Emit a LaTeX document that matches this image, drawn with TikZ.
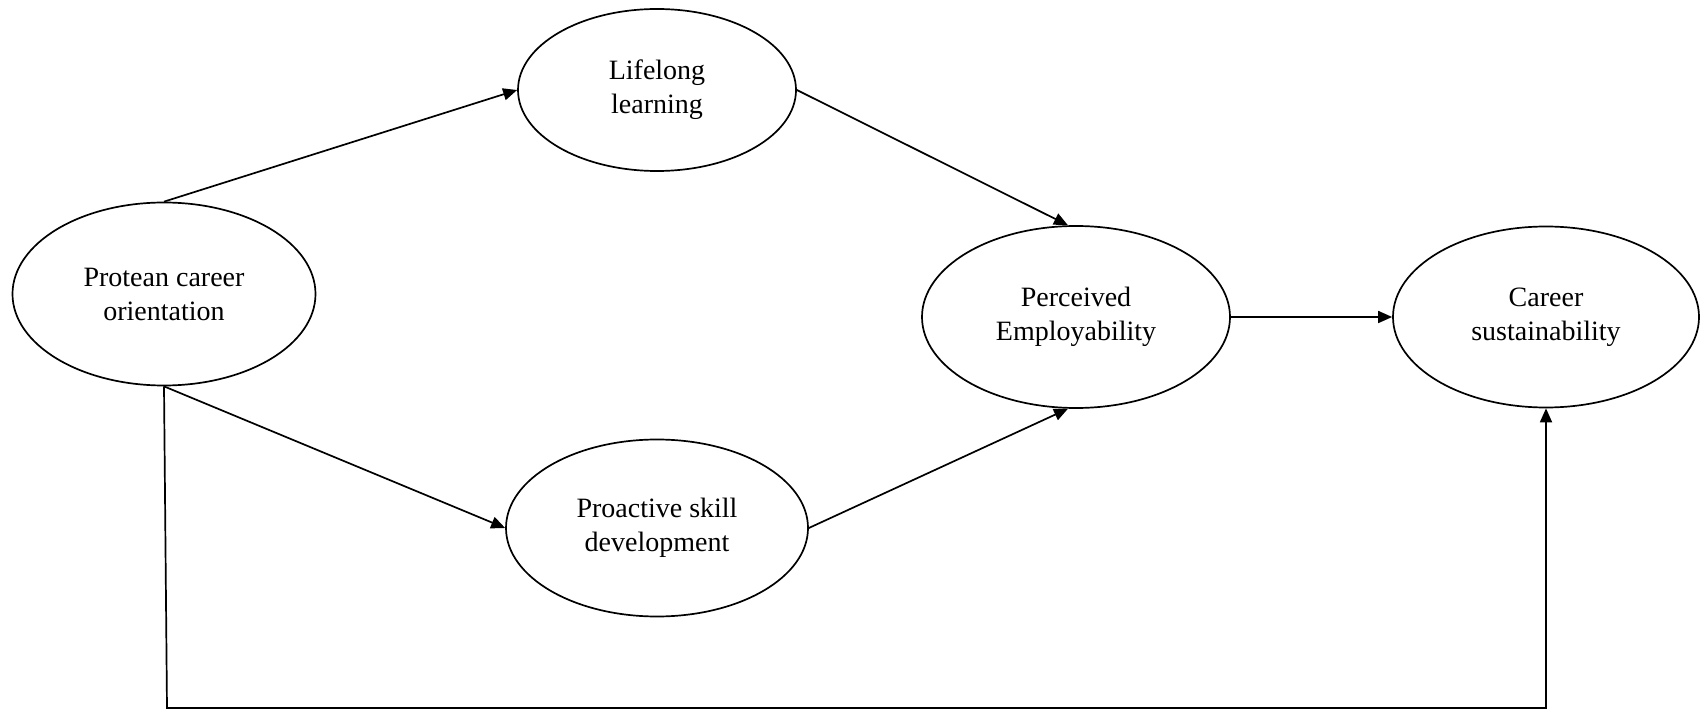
\documentclass[tikz,border=0pt]{standalone}
\usepackage{fontspec}
\setmainfont{Liberation Serif}
\usetikzlibrary{arrows.meta,shapes.geometric}
\begin{document}
\begin{tikzpicture}[x=1pt,y=-1pt,
  var/.style={draw, line width=1.7pt, ellipse, inner sep=0pt, align=center,
    font=\fontsize{28}{34}\selectfont},
  link/.style={line width=1.7pt, -{Triangle[length=14pt,width=12pt]}}]
\useasboundingbox (0,0) rectangle (1701,711);
\node[var, minimum width=303pt, minimum height=183pt] (pco) at (164,294) {Protean career\\orientation};
\node[var, minimum width=278pt, minimum height=162pt] (ll) at (657,90) {Lifelong\\learning};
\node[var, minimum width=302pt, minimum height=177pt] (psd) at (657,528) {Proactive skill\\development};
\node[var, minimum width=308pt, minimum height=182pt] (pe) at (1076,317) {Perceived\\Employability};
\node[var, minimum width=306pt, minimum height=181pt] (cs) at (1546,317) {Career\\sustainability};
\coordinate (corner) at (167,708);
\draw[link] (pco.north) -- (ll.west);
\draw[link] (ll.east) -- (pe.95);
\draw[link] (pco.south) -- (psd.west);
\draw[link] (psd.east) -- (pe.265);
\draw[link] (pe.east) -- (cs.west);
\draw[link] (pco.south) -- (corner) -| (cs.south);
\end{tikzpicture}
\end{document}
